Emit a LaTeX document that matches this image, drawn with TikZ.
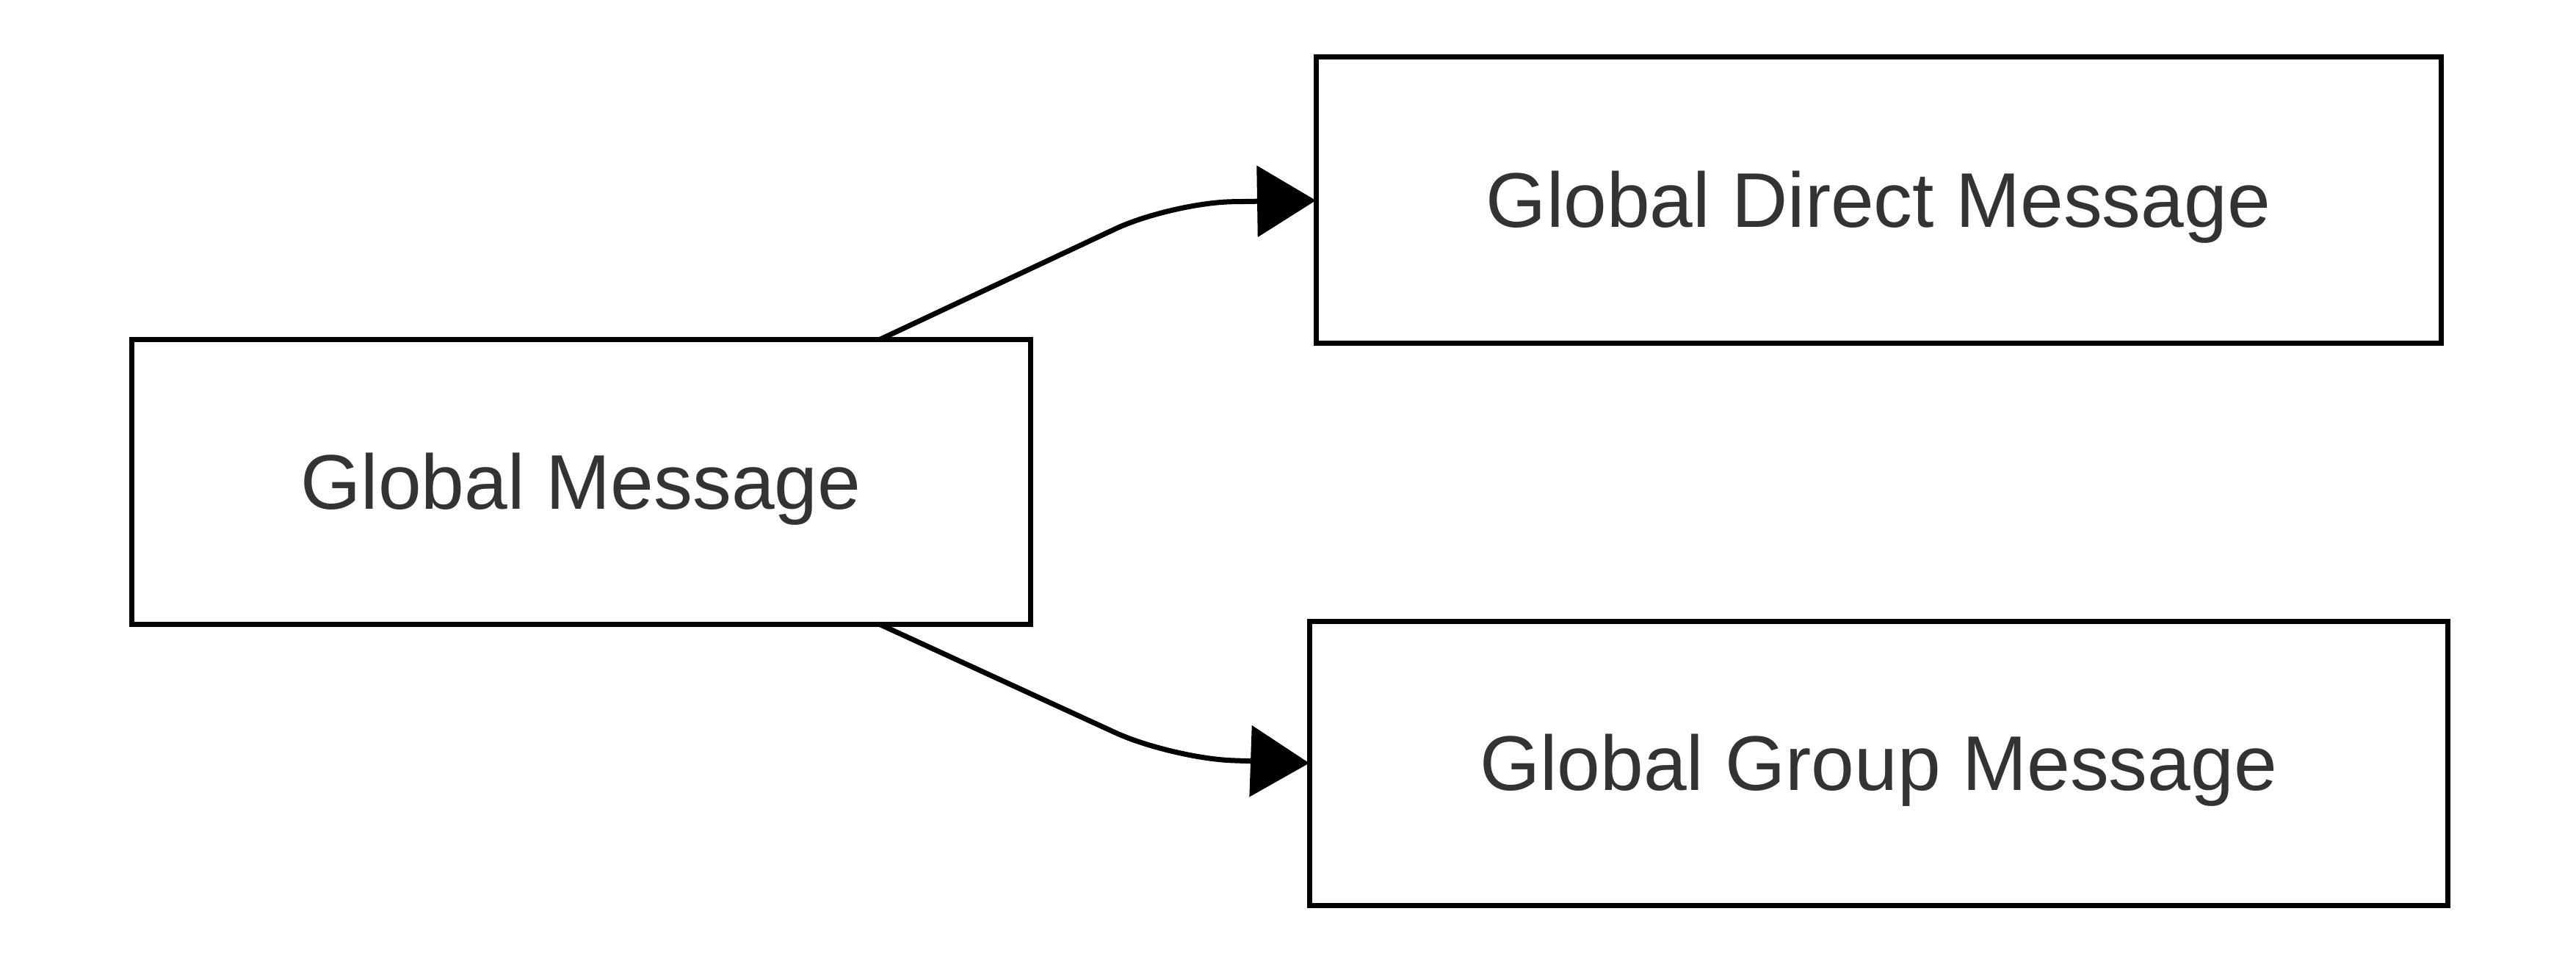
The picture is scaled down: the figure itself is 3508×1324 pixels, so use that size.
\documentclass[tikz,border=0pt]{standalone}
\usepackage{fontspec}
\setmainfont{Liberation Sans}
\usetikzlibrary{arrows.meta}
\definecolor{msgtext}{RGB}{51,51,51}

\begin{document}
\begin{tikzpicture}[x=0.25pt,y=0.25pt,yscale=-1,xscale=1,
  msgbox/.style={draw, line width=1.75pt, rectangle, inner sep=0pt, outer sep=0pt, text=msgtext, text depth=0.08em, font=\fontsize{26.4}{31}\selectfont},
  link/.style={line width=1.75pt, rounded corners=21pt, -{Triangle[length=20pt,width=24pt]}}]
%set diagram left start at 0, and has height of 1324
\path[use as bounding box] (0,0) rectangle (3508,1324);

%Flowchart: Process
\node[msgbox, minimum width=306pt, minimum height=96.75pt] (global) at (791,656.5) {Global Message};
%Flowchart: Process
\node[msgbox, minimum width=383pt, minimum height=97.5pt] (direct) at (2558,273) {Global Direct Message};
%Flowchart: Process
\node[msgbox, minimum width=387.5pt, minimum height=96.75pt] (group) at (2558,1039.5) {Global Group Message};

%Lines
\draw[link] (global.north east) ++(-206,0) -- ++(398,-187) -- (direct.west);
\draw[link] (global.south east) ++(-206,0) -- ++(398,183) -- (group.west);

\end{tikzpicture}
\end{document}
